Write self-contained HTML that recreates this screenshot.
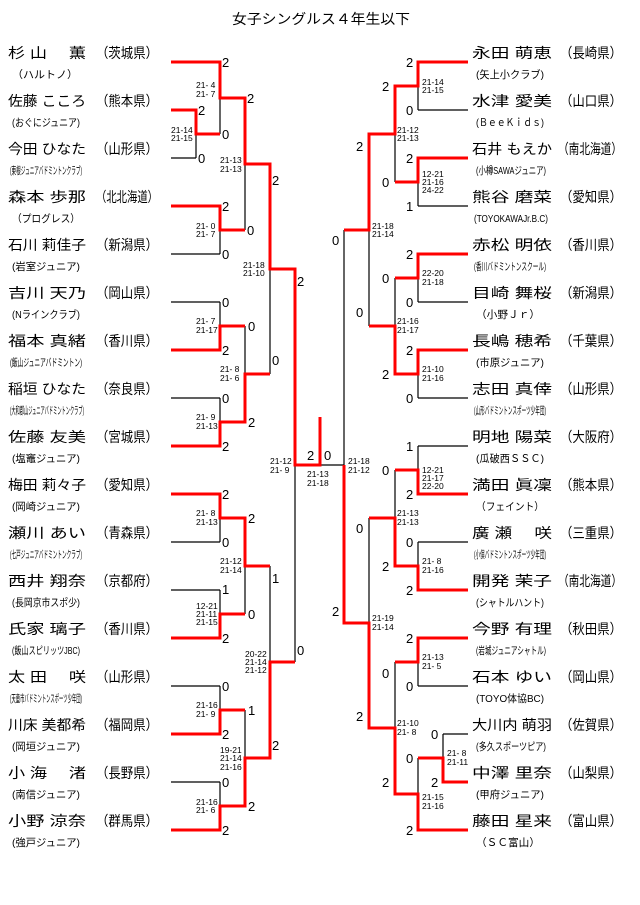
<!DOCTYPE html>
<html><head><meta charset="utf-8"><style>
html,body{margin:0;padding:0;background:#fff;}
svg{display:block;}
.n{font-family:"Liberation Sans","Noto Sans CJK JP",sans-serif;font-size:14px;fill:#000;}
.s{font-family:"Liberation Sans","Noto Sans CJK JP",sans-serif;font-size:10.5px;fill:#000;}
.w{font-family:"Liberation Sans",sans-serif;font-size:13px;fill:#000;}
.g{font-family:"Liberation Sans",sans-serif;font-size:8.5px;fill:#000;}
</style></head><body>
<svg width="640" height="905" viewBox="0 0 640 905" xmlns="http://www.w3.org/2000/svg">
<text class="n" x="232" y="24" font-size="13" textLength="178" lengthAdjust="spacingAndGlyphs">女子シングルス４年生以下</text>

<!-- black structure -->
<g stroke="#000" stroke-width="1.2" fill="none">
<!-- left player lines -->
<path d="M171 62H220M171 110H196M171 158H196M171 206H220M171 254H220M171 302H220M171 350H220M171 398H220M171 446H220M171 494H220M171 542H220M171 590H220M171 638H220M171 686H220M171 734H220M171 782H220M171 830H220"/>
<path d="M196 110V158M196 134H220M220 62V134M220 206V254M220 302V350M220 398V446M220 494V542M220 590V638M220 686V734M220 782V830"/>
<path d="M220 98H245M220 230H245M220 326H245M220 422H245M220 518H245M220 614H245M220 710H245M220 806H245"/>
<path d="M245 98V230M245 326V422M245 518V614M245 710V806M245 164H270M245 374H270M245 566H270M245 758H270"/>
<path d="M270 164V374M270 566V758M270 269H295M270 662H295M295 269V662M295 465H344"/>
<!-- right -->
<path d="M418 62H468M418 110H468M418 158H468M418 206H468M418 254H468M418 302H468M418 350H468M418 398H468M418 446H468M418 494H468M418 542H468M418 590H468M418 638H468M418 686H468M443 734H468M443 782H468M418 830H468"/>
<path d="M418 62V110M418 158V206M418 254V302M418 350V398M418 446V494M418 542V590M418 638V686M418 758V830M443 734V782M418 758H443"/>
<path d="M395 86H418M395 182H418M395 278H418M395 374H418M395 470H418M395 566H418M395 662H418M395 794H418"/>
<path d="M395 86V182M395 278V374M395 470V566M395 662V794M369 134H395M369 326H395M369 518H395M369 728H395"/>
<path d="M369 134V326M369 518V728M344 230H369M344 623H369M344 230V623"/>
</g>

<!-- red paths -->
<g stroke="#f00" stroke-width="3" fill="none" stroke-linejoin="miter">
<path d="M171 62H220V98H245V164H270V269H295V465H320V417"/>
<path d="M171 110H196V134H220"/>
<path d="M171 206H220V230H245"/>
<path d="M171 350H220V326H245"/>
<path d="M171 446H220V422H245V374H270"/>
<path d="M171 494H220V518H245V566H270"/>
<path d="M171 638H220V614H245"/>
<path d="M171 734H220V710H245"/>
<path d="M171 830H220V806H245V758H270V662H295"/>
<path d="M468 62H418V86H395V134H369V230H344"/>
<path d="M468 158H418V182H395"/>
<path d="M468 254H418V278H395"/>
<path d="M468 350H418V374H395V326H369"/>
<path d="M468 494H418V470H395"/>
<path d="M468 590H418V566H395V518H369"/>
<path d="M468 638H418V662H395"/>
<path d="M468 782H443V758H418"/>
<path d="M468 830H418V794H395V728H369V623H344V465"/>
</g>

<!-- left names -->
<g>
<text class="n" x="8" y="58" textLength="78" lengthAdjust="spacingAndGlyphs">杉 山　 薫</text><text class="n" x="96" y="58" textLength="62" lengthAdjust="spacingAndGlyphs">（茨城県）</text><text class="s" x="12" y="78" textLength="66" lengthAdjust="spacingAndGlyphs">（ハルトノ）</text>
<text class="n" x="8" y="106" textLength="78" lengthAdjust="spacingAndGlyphs">佐藤 こころ</text><text class="n" x="96" y="106" textLength="62" lengthAdjust="spacingAndGlyphs">（熊本県）</text><text class="s" x="12" y="126" textLength="68" lengthAdjust="spacingAndGlyphs">(おぐにジュニア)</text>
<text class="n" x="8" y="154" textLength="78" lengthAdjust="spacingAndGlyphs">今田 ひなた</text><text class="n" x="96" y="154" textLength="62" lengthAdjust="spacingAndGlyphs">（山形県）</text><text class="s" x="10" y="174" textLength="72" lengthAdjust="spacingAndGlyphs">(東根ジュニアバドミントンクラブ)</text>
<text class="n" x="8" y="202" textLength="78" lengthAdjust="spacingAndGlyphs">森本 歩那</text><text class="n" x="96" y="202" textLength="62" lengthAdjust="spacingAndGlyphs">（北北海道）</text><text class="s" x="12" y="222" textLength="68" lengthAdjust="spacingAndGlyphs">（プログレス）</text>
<text class="n" x="8" y="250" textLength="78" lengthAdjust="spacingAndGlyphs">石川 莉佳子</text><text class="n" x="96" y="250" textLength="62" lengthAdjust="spacingAndGlyphs">（新潟県）</text><text class="s" x="12" y="270" textLength="68" lengthAdjust="spacingAndGlyphs">(岩室ジュニア)</text>
<text class="n" x="8" y="298" textLength="78" lengthAdjust="spacingAndGlyphs">吉川 天乃</text><text class="n" x="96" y="298" textLength="62" lengthAdjust="spacingAndGlyphs">（岡山県）</text><text class="s" x="12" y="318" textLength="68" lengthAdjust="spacingAndGlyphs">(Nラインクラブ)</text>
<text class="n" x="8" y="346" textLength="78" lengthAdjust="spacingAndGlyphs">福本 真緒</text><text class="n" x="96" y="346" textLength="62" lengthAdjust="spacingAndGlyphs">（香川県）</text><text class="s" x="10" y="366" textLength="72" lengthAdjust="spacingAndGlyphs">(飯山ジュニアバドミントン)</text>
<text class="n" x="8" y="394" textLength="78" lengthAdjust="spacingAndGlyphs">稲垣 ひなた</text><text class="n" x="96" y="394" textLength="62" lengthAdjust="spacingAndGlyphs">（奈良県）</text><text class="s" x="10" y="414" textLength="74" lengthAdjust="spacingAndGlyphs">(大和郡山ジュニアバドミントンクラブ)</text>
<text class="n" x="8" y="442" textLength="78" lengthAdjust="spacingAndGlyphs">佐藤 友美</text><text class="n" x="96" y="442" textLength="62" lengthAdjust="spacingAndGlyphs">（宮城県）</text><text class="s" x="12" y="462" textLength="68" lengthAdjust="spacingAndGlyphs">(塩竈ジュニア)</text>
<text class="n" x="8" y="490" textLength="78" lengthAdjust="spacingAndGlyphs">梅田 莉々子</text><text class="n" x="96" y="490" textLength="62" lengthAdjust="spacingAndGlyphs">（愛知県）</text><text class="s" x="12" y="510" textLength="68" lengthAdjust="spacingAndGlyphs">(岡崎ジュニア)</text>
<text class="n" x="8" y="538" textLength="78" lengthAdjust="spacingAndGlyphs">瀬川 あい</text><text class="n" x="96" y="538" textLength="62" lengthAdjust="spacingAndGlyphs">（青森県）</text><text class="s" x="10" y="558" textLength="72" lengthAdjust="spacingAndGlyphs">(七戸ジュニアバドミントンクラブ)</text>
<text class="n" x="8" y="586" textLength="78" lengthAdjust="spacingAndGlyphs">西井 翔奈</text><text class="n" x="96" y="586" textLength="62" lengthAdjust="spacingAndGlyphs">（京都府）</text><text class="s" x="12" y="606" textLength="68" lengthAdjust="spacingAndGlyphs">(長岡京市スポ少)</text>
<text class="n" x="8" y="634" textLength="78" lengthAdjust="spacingAndGlyphs">氏家 璃子</text><text class="n" x="96" y="634" textLength="62" lengthAdjust="spacingAndGlyphs">（香川県）</text><text class="s" x="12" y="654" textLength="68" lengthAdjust="spacingAndGlyphs">(飯山スピリッツJBC)</text>
<text class="n" x="8" y="682" textLength="78" lengthAdjust="spacingAndGlyphs">太 田　 咲</text><text class="n" x="96" y="682" textLength="62" lengthAdjust="spacingAndGlyphs">（山形県）</text><text class="s" x="10" y="702" textLength="72" lengthAdjust="spacingAndGlyphs">(天童市バドミントンスポーツ少年団)</text>
<text class="n" x="8" y="730" textLength="78" lengthAdjust="spacingAndGlyphs">川床 美都希</text><text class="n" x="96" y="730" textLength="62" lengthAdjust="spacingAndGlyphs">（福岡県）</text><text class="s" x="12" y="750" textLength="68" lengthAdjust="spacingAndGlyphs">(岡垣ジュニア)</text>
<text class="n" x="8" y="778" textLength="78" lengthAdjust="spacingAndGlyphs">小 海　 渚</text><text class="n" x="96" y="778" textLength="62" lengthAdjust="spacingAndGlyphs">（長野県）</text><text class="s" x="12" y="798" textLength="68" lengthAdjust="spacingAndGlyphs">(南信ジュニア)</text>
<text class="n" x="8" y="826" textLength="78" lengthAdjust="spacingAndGlyphs">小野 涼奈</text><text class="n" x="96" y="826" textLength="62" lengthAdjust="spacingAndGlyphs">（群馬県）</text><text class="s" x="12" y="846" textLength="68" lengthAdjust="spacingAndGlyphs">(強戸ジュニア)</text>
</g>

<!-- right names -->
<g>
<text class="n" x="472" y="58" textLength="80" lengthAdjust="spacingAndGlyphs">永田 萌恵</text><text class="n" x="560" y="58" textLength="62" lengthAdjust="spacingAndGlyphs">（長崎県）</text><text class="s" x="476" y="78" textLength="68" lengthAdjust="spacingAndGlyphs">(矢上小クラブ)</text>
<text class="n" x="472" y="106" textLength="80" lengthAdjust="spacingAndGlyphs">水津 愛美</text><text class="n" x="560" y="106" textLength="62" lengthAdjust="spacingAndGlyphs">（山口県）</text><text class="s" x="476" y="126" textLength="68" lengthAdjust="spacingAndGlyphs">(ＢｅｅＫｉｄｓ)</text>
<text class="n" x="472" y="154" textLength="80" lengthAdjust="spacingAndGlyphs">石井 もえか</text><text class="n" x="558" y="154" textLength="64" lengthAdjust="spacingAndGlyphs">（南北海道）</text><text class="s" x="476" y="174" textLength="70" lengthAdjust="spacingAndGlyphs">(小樽SAWAジュニア)</text>
<text class="n" x="472" y="202" textLength="80" lengthAdjust="spacingAndGlyphs">熊谷 磨菜</text><text class="n" x="560" y="202" textLength="62" lengthAdjust="spacingAndGlyphs">（愛知県）</text><text class="s" x="474" y="222" textLength="74" lengthAdjust="spacingAndGlyphs">(TOYOKAWAJr.B.C)</text>
<text class="n" x="472" y="250" textLength="80" lengthAdjust="spacingAndGlyphs">赤松 明依</text><text class="n" x="560" y="250" textLength="62" lengthAdjust="spacingAndGlyphs">（香川県）</text><text class="s" x="474" y="270" textLength="72" lengthAdjust="spacingAndGlyphs">(香川バドミントンスクール)</text>
<text class="n" x="472" y="298" textLength="80" lengthAdjust="spacingAndGlyphs">目崎 舞桜</text><text class="n" x="560" y="298" textLength="62" lengthAdjust="spacingAndGlyphs">（新潟県）</text><text class="s" x="476" y="318" textLength="64" lengthAdjust="spacingAndGlyphs">（小野Ｊｒ）</text>
<text class="n" x="472" y="346" textLength="80" lengthAdjust="spacingAndGlyphs">長嶋 穂希</text><text class="n" x="560" y="346" textLength="62" lengthAdjust="spacingAndGlyphs">（千葉県）</text><text class="s" x="476" y="366" textLength="68" lengthAdjust="spacingAndGlyphs">(市原ジュニア)</text>
<text class="n" x="472" y="394" textLength="80" lengthAdjust="spacingAndGlyphs">志田 真倖</text><text class="n" x="560" y="394" textLength="62" lengthAdjust="spacingAndGlyphs">（山形県）</text><text class="s" x="474" y="414" textLength="72" lengthAdjust="spacingAndGlyphs">(山形バドミントンスポーツ少年団)</text>
<text class="n" x="472" y="442" textLength="80" lengthAdjust="spacingAndGlyphs">明地 陽菜</text><text class="n" x="560" y="442" textLength="62" lengthAdjust="spacingAndGlyphs">（大阪府）</text><text class="s" x="476" y="462" textLength="68" lengthAdjust="spacingAndGlyphs">(瓜破西ＳＳＣ)</text>
<text class="n" x="472" y="490" textLength="80" lengthAdjust="spacingAndGlyphs">満田 眞凜</text><text class="n" x="560" y="490" textLength="62" lengthAdjust="spacingAndGlyphs">（熊本県）</text><text class="s" x="476" y="510" textLength="68" lengthAdjust="spacingAndGlyphs">（フェイント）</text>
<text class="n" x="472" y="538" textLength="80" lengthAdjust="spacingAndGlyphs">廣 瀬　 咲</text><text class="n" x="560" y="538" textLength="62" lengthAdjust="spacingAndGlyphs">（三重県）</text><text class="s" x="474" y="558" textLength="72" lengthAdjust="spacingAndGlyphs">(小俣バドミントンスポーツ少年団)</text>
<text class="n" x="472" y="586" textLength="80" lengthAdjust="spacingAndGlyphs">開発 茉子</text><text class="n" x="558" y="586" textLength="64" lengthAdjust="spacingAndGlyphs">（南北海道）</text><text class="s" x="476" y="606" textLength="68" lengthAdjust="spacingAndGlyphs">(シャトルハント)</text>
<text class="n" x="472" y="634" textLength="80" lengthAdjust="spacingAndGlyphs">今野 有理</text><text class="n" x="560" y="634" textLength="62" lengthAdjust="spacingAndGlyphs">（秋田県）</text><text class="s" x="476" y="654" textLength="70" lengthAdjust="spacingAndGlyphs">(岩城ジュニアシャトル)</text>
<text class="n" x="472" y="682" textLength="80" lengthAdjust="spacingAndGlyphs">石本 ゆい</text><text class="n" x="560" y="682" textLength="62" lengthAdjust="spacingAndGlyphs">（岡山県）</text><text class="s" x="476" y="702" textLength="68" lengthAdjust="spacingAndGlyphs">(TOYO体協BC)</text>
<text class="n" x="472" y="730" textLength="80" lengthAdjust="spacingAndGlyphs">大川内 萌羽</text><text class="n" x="560" y="730" textLength="62" lengthAdjust="spacingAndGlyphs">（佐賀県）</text><text class="s" x="476" y="750" textLength="70" lengthAdjust="spacingAndGlyphs">(多久スポーツピア)</text>
<text class="n" x="472" y="778" textLength="80" lengthAdjust="spacingAndGlyphs">中澤 里奈</text><text class="n" x="560" y="778" textLength="62" lengthAdjust="spacingAndGlyphs">（山梨県）</text><text class="s" x="476" y="798" textLength="68" lengthAdjust="spacingAndGlyphs">(甲府ジュニア)</text>
<text class="n" x="472" y="826" textLength="80" lengthAdjust="spacingAndGlyphs">藤田 星来</text><text class="n" x="560" y="826" textLength="62" lengthAdjust="spacingAndGlyphs">（富山県）</text><text class="s" x="476" y="846" textLength="64" lengthAdjust="spacingAndGlyphs">（ＳＣ富山）</text>
</g>

<!-- match win counts -->
<g class="w">
<text x="222" y="67">2</text><text x="222" y="139">0</text>
<text x="198" y="115">2</text><text x="198" y="163">0</text>
<text x="247" y="103">2</text><text x="247" y="235">0</text>
<text x="222" y="211">2</text><text x="222" y="259">0</text>
<text x="272" y="185">2</text><text x="272" y="365">0</text>
<text x="222" y="307">0</text><text x="222" y="355">2</text>
<text x="248" y="331">0</text><text x="248" y="427">2</text>
<text x="222" y="403">0</text><text x="222" y="451">2</text>
<text x="297" y="286">2</text><text x="297" y="655">0</text>
<text x="307" y="460">2</text><text x="324" y="460">0</text>
<text x="222" y="499">2</text><text x="222" y="547">0</text>
<text x="222" y="594">1</text><text x="222" y="643">2</text>
<text x="248" y="523">2</text><text x="248" y="619">0</text>
<text x="272" y="583">1</text><text x="272" y="750">2</text>
<text x="222" y="691">0</text><text x="222" y="739">2</text>
<text x="248" y="715">1</text><text x="248" y="811">2</text>
<text x="222" y="787">0</text><text x="222" y="835">2</text>
<!-- right -->
<text x="406" y="67">2</text><text x="406" y="115">0</text>
<text x="406" y="163">2</text><text x="406" y="211">1</text>
<text x="382" y="91">2</text><text x="382" y="187">0</text>
<text x="356" y="151">2</text><text x="356" y="317">0</text>
<text x="406" y="259">2</text><text x="406" y="307">0</text>
<text x="406" y="355">2</text><text x="406" y="403">0</text>
<text x="382" y="283">0</text><text x="382" y="379">2</text>
<text x="332" y="245">0</text><text x="332" y="616">2</text>
<text x="406" y="451">1</text><text x="406" y="499">2</text>
<text x="406" y="547">0</text><text x="406" y="595">2</text>
<text x="382" y="475">0</text><text x="382" y="571">2</text>
<text x="356" y="533">0</text><text x="356" y="721">2</text>
<text x="406" y="643">2</text><text x="406" y="691">0</text>
<text x="431" y="739">0</text><text x="431" y="787">2</text>
<text x="406" y="763">0</text><text x="406" y="835">2</text>
<text x="382" y="678">0</text><text x="382" y="787">2</text>
</g>

<!-- game scores -->
<g class="g">
<text x="196" y="88">21- 4</text><text x="196" y="97">21- 7</text>
<text x="171" y="133">21-14</text><text x="171" y="141">21-15</text>
<text x="220" y="163">21-13</text><text x="220" y="172">21-13</text>
<text x="196" y="229">21- 0</text><text x="196" y="237">21- 7</text>
<text x="243" y="268">21-18</text><text x="243" y="276">21-10</text>
<text x="196" y="324">21- 7</text><text x="196" y="333">21-17</text>
<text x="220" y="372">21- 8</text><text x="220" y="381">21- 6</text>
<text x="196" y="420">21- 9</text><text x="196" y="429">21-13</text>
<text x="270" y="464">21-12</text><text x="270" y="473">21- 9</text>
<text x="307" y="477">21-13</text><text x="307" y="486">21-18</text>
<text x="196" y="516">21- 8</text><text x="196" y="525">21-13</text>
<text x="196" y="609">12-21</text><text x="196" y="617">21-11</text><text x="196" y="625">21-15</text>
<text x="220" y="564">21-12</text><text x="220" y="573">21-14</text>
<text x="245" y="657">20-22</text><text x="245" y="665">21-14</text><text x="245" y="673">21-12</text>
<text x="196" y="708">21-16</text><text x="196" y="717">21- 9</text>
<text x="220" y="753">19-21</text><text x="220" y="761">21-14</text><text x="220" y="770">21-16</text>
<text x="196" y="805">21-16</text><text x="196" y="813">21- 6</text>
<!-- right -->
<text x="422" y="85">21-14</text><text x="422" y="93">21-15</text>
<text x="422" y="177">12-21</text><text x="422" y="185">21-16</text><text x="422" y="193">24-22</text>
<text x="397" y="133">21-12</text><text x="397" y="141">21-13</text>
<text x="372" y="229">21-18</text><text x="372" y="237">21-14</text>
<text x="422" y="276">22-20</text><text x="422" y="285">21-18</text>
<text x="422" y="372">21-10</text><text x="422" y="381">21-16</text>
<text x="397" y="324">21-16</text><text x="397" y="333">21-17</text>
<text x="348" y="464">21-18</text><text x="348" y="473">21-12</text>
<text x="422" y="473">12-21</text><text x="422" y="481">21-17</text><text x="422" y="489">22-20</text>
<text x="422" y="564">21- 8</text><text x="422" y="573">21-16</text>
<text x="397" y="516">21-13</text><text x="397" y="525">21-13</text>
<text x="372" y="621">21-19</text><text x="372" y="630">21-14</text>
<text x="422" y="660">21-13</text><text x="422" y="669">21- 5</text>
<text x="447" y="756">21- 8</text><text x="447" y="765">21-11</text>
<text x="422" y="800">21-15</text><text x="422" y="809">21-16</text>
<text x="397" y="726">21-10</text><text x="397" y="735">21- 8</text>
</g>
</svg>
</body></html>
